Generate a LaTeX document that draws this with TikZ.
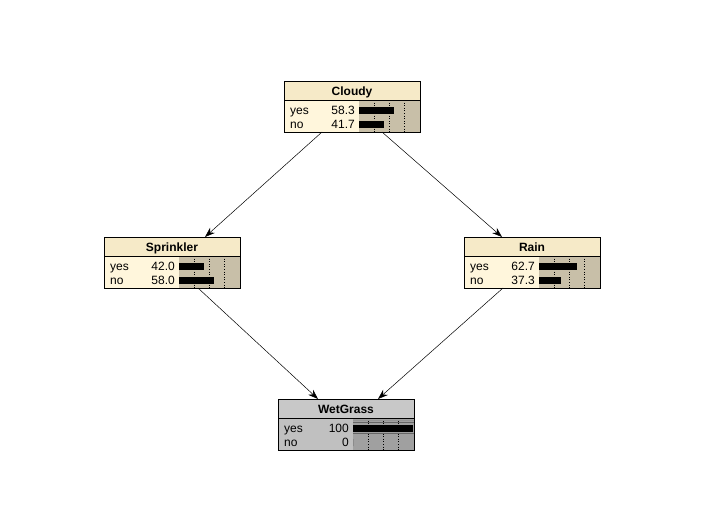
\documentclass[tikz,border=0pt]{standalone}
\usepackage{fontspec}
\setmainfont{Liberation Sans}
\usetikzlibrary{arrows.meta,calc}
\definecolor{beliefhead}{RGB}{246,234,200}
\definecolor{beliefbody}{RGB}{255,246,220}
\definecolor{beliefbars}{RGB}{200,191,168}
\definecolor{findhead}{RGB}{200,200,200}
\definecolor{findbody}{RGB}{192,192,192}
\definecolor{findbars}{RGB}{160,160,160}
\tikzset{
  statetxt/.style={font=\fontsize{12}{13}\selectfont, inner sep=0pt},
  titletxt/.style={font=\fontsize{12}{13}\selectfont\bfseries, inner sep=0pt},
  link/.style={-{Stealth[length=10pt,width=7pt]}, line width=0.5pt},
}
% #1 name, #2 left, #3 top, #4 title, #5 yes, #6 no, #7 colour set
\newcommand{\netnode}[7]{%
  \begin{scope}[shift={(#2,#3)}]
    \fill[#7head] (0,0) rectangle (136,19);
    \fill[#7body] (0,19) rectangle (75,51);
    \fill[#7bars] (75,19) rectangle (136,51);
    \foreach \q in {15,30,45} \draw[dotted,line width=0.6pt] (75+\q,19) -- (75+\q,51);
    \fill (75,26) rectangle ++({#5*0.6},7);
    \fill (75,40) rectangle ++({#6*0.6},7);
    \draw[line width=0.6pt] (0,19) -- (136,19);
    \node[titletxt,anchor=base] at (68,14.5) {#4};
    \node[statetxt,anchor=base west] at (6,33.5) {yes};
    \node[statetxt,anchor=base west] at (6,47.5) {no};
    \node[statetxt,anchor=base east] at (71,33.5) {#5};
    \node[statetxt,anchor=base east] at (71,47.5) {#6};
    \node[draw,line width=0.6pt,minimum width=136pt,minimum height=51pt,
      inner sep=0pt,outer sep=0pt,anchor=north west] (#1) at (0,0) {};
  \end{scope}}

\begin{document}
\begin{tikzpicture}[x=1pt,y=-1pt]
    \fill[white] (0,0) rectangle (709,511);
    \useasboundingbox (0,0) rectangle (709,511);

    % Noeuds du réseau
    \netnode{cloudy}{284}{81}{Cloudy}{58.3}{41.7}{belief}
    \netnode{sprinkler}{104}{237}{Sprinkler}{42.0}{58.0}{belief}
    \netnode{rain}{464}{237}{Rain}{62.7}{37.3}{belief}
    \netnode{wetgrass}{278}{399}{WetGrass}{100}{0}{find}

    % Observation sur WetGrass
    \draw[gray!85] (353,420.5) -- (414,420.5);
    \draw[black!60] (353,422.5) -- (414,422.5);
    \draw[black!60] (353,433.5) -- (414,433.5);

    % Arcs
    \draw[link] ([xshift=-30pt]cloudy.south) -- ([xshift=33pt]sprinkler.north);
    \draw[link] ([xshift=30pt]cloudy.south) -- ([xshift=-30pt]rain.north);
    \draw[link] ([xshift=26pt]sprinkler.south) -- ([xshift=-28pt]wetgrass.north);
    \draw[link] ([xshift=-29pt]rain.south) -- ([xshift=32pt]wetgrass.north);

\end{tikzpicture}
\end{document}
